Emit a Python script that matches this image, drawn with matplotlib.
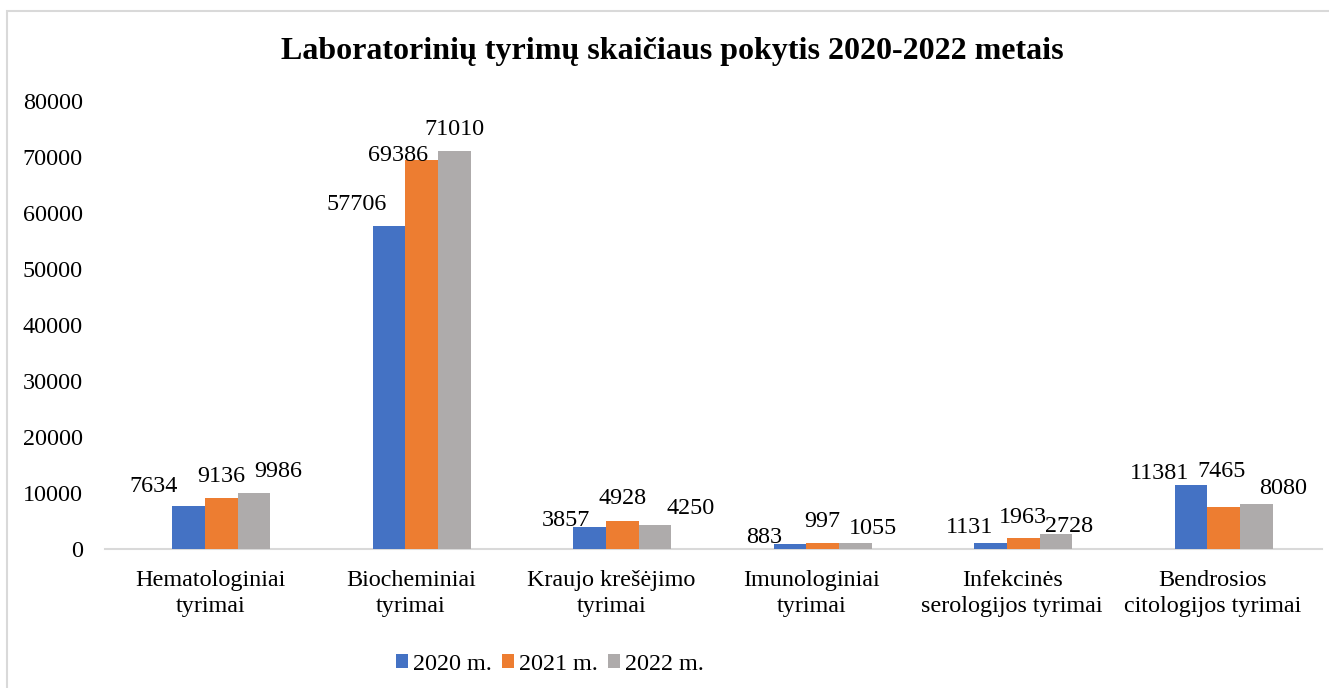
import numpy as np
import matplotlib
matplotlib.use("Agg")
import matplotlib.pyplot as plt
from matplotlib.patches import Rectangle

plt.rcParams['font.family'] = ['Liberation Serif', 'DejaVu Serif']

# duomenys
categories = ["Hematologiniai\ntyrimai", "Biocheminiai\ntyrimai", "Kraujo krešėjimo\ntyrimai",
              "Imunologiniai\ntyrimai", "Infekcinės\nserologijos tyrimai", "Bendrosios\ncitologijos tyrimai"]
years = ["2020 m.", "2021 m.", "2022 m."]
v2020 = [7634, 57706, 3857, 883, 1131, 11381]
v2021 = [9136, 69386, 4928, 997, 1963, 7465]
v2022 = [9986, 71010, 4250, 1055, 2728, 8080]
yticks = [0, 10000, 20000, 30000, 40000, 50000, 60000, 70000, 80000]

colors = ["#4472C4", "#ED7D31", "#AEABAB"]
fs = 17.4

# etikečių poslinkiai (px): kaip rankiniu būdu perkelta Excel'yje
lbl_off = [
    [(-35, 14), (-32, 16), (-24, 1), (-26, 1), (-21, 10), (-32, 6)],
    [(0, 16), (-24, -1), (0, 17), (0, 16), (0, 15), (-2, 30)],
    [(24, 16), (0, 16), (36, 11), (18, 9), (13, 2), (27, 10)],
]

fig = plt.figure(figsize=(13.29, 6.88), dpi=100)
ax = fig.add_axes([105 / 1329, 1 - 549 / 688, (1322 - 105) / 1329, (549 - 101) / 688])

x = np.arange(len(categories))
w = 0.163
series = [v2020, v2021, v2022]
for i, vals in enumerate(series):
    bars = ax.bar(x + (i - 1) * w, vals, w, color=colors[i], label=years[i], zorder=3)
    for j, b in enumerate(bars):
        dx, dy = lbl_off[i][j]
        ax.annotate(str(vals[j]), (b.get_x() + b.get_width() / 2, b.get_height()),
                    xytext=(dx, dy), textcoords='offset pixels',
                    ha='center', va='baseline', fontsize=fs, color='#000000')

ax.set_xlim(-0.58, 5.49)
ax.set_ylim(0, 80000)
ax.set_yticks(yticks)
ax.set_yticklabels([str(t) for t in yticks])
ax.set_xticks(x - 0.055)
ax.set_xticklabels(categories, linespacing=1.3)
ax.tick_params(axis='both', length=0, labelsize=fs)
ax.tick_params(axis='y', pad=16)
ax.tick_params(axis='x', pad=15)
for s in ['top', 'right', 'left']:
    ax.spines[s].set_visible(False)
ax.spines['bottom'].set_color('#D9D9D9')
ax.spines['bottom'].set_linewidth(1.5)

fig.text(672 / 1329, 1 - 51 / 688, "Laboratorinių tyrimų skaičiaus pokytis 2020-2022 metais",
         ha='center', va='center', fontsize=23, fontweight='bold')

fig.legend(loc='center', bbox_to_anchor=(550 / 1329, 1 - 664 / 688), ncol=3, frameon=False,
           fontsize=fs, handlelength=0.48, handleheight=0.48, handletextpad=0.22,
           columnspacing=0.42)

# rėmelis
fig.patches.append(Rectangle((7 / 1329, -0.1), 1.2, 1.1 - 11.5 / 688, transform=fig.transFigure,
                             fill=False, edgecolor='#D9D9D9', linewidth=1.5))

fig.savefig("out.png", dpi=100)
